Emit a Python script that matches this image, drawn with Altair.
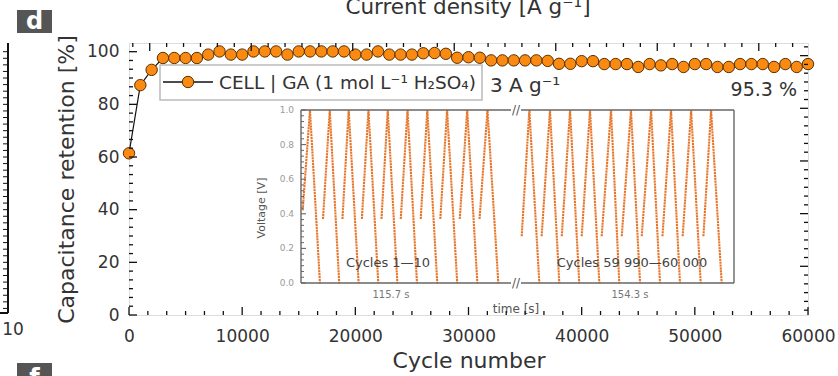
import altair as alt
import pandas as pd

# ---------------- data ----------------
cycles = list(range(0, 60001, 1000))
retention = [61.4, 87.3, 93.1, 97.6, 97.6, 97.6, 97.6, 98.9, 100.1, 98.9,
             98.9, 100.1, 100.1, 100.1, 98.9, 100.1, 100.1, 100.1, 100.1, 100.1,
             98.9, 98.9, 100.1, 98.9, 98.9, 98.9, 99.4, 99.5, 99.2, 97.7,
             97.9, 97.7, 96.7, 96.7, 96.7, 96.7, 96.7, 96.5, 95.4, 95.4,
             96.4, 96.4, 95.3, 95.3, 95.3, 94.2, 95.3, 94.8, 95.3, 94.2,
             95.3, 95.3, 94.2, 94.2, 95.3, 95.3, 95.3, 94.2, 95.3, 94.2, 95.3]

# inset: cycles 1-10 (time in s within the 115.7 s window)
L_start_t = [0.0, 12.0, 23.5, 35.0, 46.6, 58.0, 69.8, 81.4, 92.9, 104.6]
L_peak_t = [4.3, 16.0, 27.2, 38.9, 50.3, 62.0, 73.7, 85.4, 97.3, 109.3]
L_end_t = [10.2, 21.6, 33.1, 44.7, 56.0, 67.6, 79.6, 91.4, 103.3, 115.7]
L_start_v = [0.42, 0.37, 0.37, 0.37, 0.37, 0.37, 0.37, 0.37, 0.37, 0.37]
# inset: cycles 59 990-60 000 (time in s within the 154.3 s window)
R_start_t = [0.0, 15.4, 30.9, 46.3, 61.7, 77.2, 92.6, 108.6, 124.2, 140.2]
R_peak_t = [5.9, 21.8, 37.3, 52.7, 68.9, 84.3, 99.8, 115.2, 130.7, 146.1]
R_end_t = [13.6, 29.0, 44.4, 59.9, 75.3, 91.3, 106.7, 122.1, 138.1, 154.3]
R_start_v = [0.27, 0.27, 0.27, 0.27, 0.27, 0.27, 0.27, 0.27, 0.27, 0.27]

x_ticks = [0, 10000, 20000, 30000, 40000, 50000, 60000]
y_ticks = [0, 20, 40, 60, 80, 100]
v_ticks = [0.0, 0.2, 0.4, 0.6, 0.8, 1.0]
top_major = [1830, 10800, 19770, 28740, 37710, 46680, 55650]
right_major = [18.5, 38.5, 58.5, 78.5, 98.5]

# ---------------- layout ----------------
W, H = 679, 272
F = "DejaVu Sans"
TXT = "#333333"
ORANGE = "#FA8A12"
CURVE = "#E6762A"

XS = alt.Scale(domain=[0, 60000], nice=False, zero=False)
YS = alt.Scale(domain=[0, 103.3], nice=False, zero=False)
LS = alt.Scale(domain=[0, 115.7], range=[173.7, 369.3], nice=False, zero=False)
RS = alt.Scale(domain=[0, 154.3], range=[392.7, 592.7], nice=False, zero=False)
VS = alt.Scale(domain=[0, 1], range=[240, 67], nice=False, zero=False)

main_df = pd.DataFrame({"cycle": cycles, "ret": retention})


def curve_df(st, pk, en, sv):
    rows = []
    for i in range(len(st)):
        rows.append({"cyc": i, "o": 0, "t": st[i], "v": sv[i]})
        rows.append({"cyc": i, "o": 1, "t": pk[i], "v": 1.0})
        rows.append({"cyc": i, "o": 2, "t": en[i], "v": 0.0})
    return pd.DataFrame(rows)


def txt(s, x, y, size, align="center", baseline="middle", color=TXT, angle=0, weight="normal"):
    return alt.Chart(pd.DataFrame({"t": [s]})).mark_text(
        align=align, baseline=baseline, fontSize=size, color=color, font=F,
        fontWeight=weight, angle=angle
    ).encode(x=alt.value(x), y=alt.value(y), text="t:N")


def prule(x0, x1, y0, y1, color="#111111", sw=1.3):
    return alt.Chart(pd.DataFrame({"a": [0]})).mark_rule(color=color, strokeWidth=sw).encode(
        x=alt.value(x0), x2=alt.value(x1), y=alt.value(y0), y2=alt.value(y1))


def prect(x0, x1, y0, y1, fill, stroke=None, sw=0):
    kw = dict(fill=fill, strokeWidth=sw)
    if stroke:
        kw["stroke"] = stroke
    return alt.Chart(pd.DataFrame({"a": [0]})).mark_rect(**kw).encode(
        x=alt.value(x0), x2=alt.value(x1), y=alt.value(y0), y2=alt.value(y1))


def xticks(vals, scale, y0, y1, color="#111111", sw=1.3):
    return alt.Chart(pd.DataFrame({"v": vals})).mark_rule(color=color, strokeWidth=sw).encode(
        x=alt.X("v:Q", scale=scale, axis=None), y=alt.value(y0), y2=alt.value(y1))


def yticks(vals, scale, x0, x1, color="#111111", sw=1.3):
    return alt.Chart(pd.DataFrame({"v": vals})).mark_rule(color=color, strokeWidth=sw).encode(
        y=alt.Y("v:Q", scale=scale, axis=None), x=alt.value(x0), x2=alt.value(x1))


def minors(majors, step, lo, hi):
    out = []
    for m in majors:
        for k in range(-5, 6):
            v = m + k * step
            if k != 0 and lo <= v <= hi and all(abs(v - mm) > 1e-6 for mm in majors):
                out.append(round(v, 4))
    return sorted(set(out))


layers = []

# ---- inset curves ----
layers.append(alt.Chart(curve_df(L_start_t, L_peak_t, L_end_t, L_start_v)).mark_line(
    color=CURVE, strokeWidth=2.1, strokeDash=[2.2, 0.7]).encode(
    x=alt.X("t:Q", scale=LS, axis=None), y=alt.Y("v:Q", scale=VS, axis=None),
    detail="cyc:N", order="o:Q"))
layers.append(alt.Chart(curve_df(R_start_t, R_peak_t, R_end_t, R_start_v)).mark_line(
    color=CURVE, strokeWidth=2.1, strokeDash=[2.2, 0.7]).encode(
    x=alt.X("t:Q", scale=RS, axis=None), y=alt.Y("v:Q", scale=VS, axis=None),
    detail="cyc:N", order="o:Q"))

# ---- inset frame ----
FR = "#666666"
layers += [
    prule(172, 172, 67, 240, FR, 1.4),
    prule(605, 605, 67, 240, FR, 1.4),
    prule(172, 382, 67, 67, FR, 1.4),
    prule(392, 605, 67, 67, FR, 1.4),
    prule(172, 382, 240, 240, FR, 1.4),
    prule(392, 605, 240, 240, FR, 1.4),
    txt("//", 387, 67, 12, color="#555555"),
    txt("//", 387, 240, 12, color="#555555"),
]
layers.append(yticks(v_ticks, VS, 172, 177, FR, 1.1))
layers.append(yticks(minors(v_ticks, 0.2 / 6, 0, 1), VS, 172, 175, FR, 1.0))
layers.append(alt.Chart(pd.DataFrame({"v": v_ticks, "lab": [f"{v:.1f}" for v in v_ticks]})).mark_text(
    align="right", baseline="middle", fontSize=9, color="#9a9a9a", font=F).encode(
    y=alt.Y("v:Q", scale=VS, axis=None), x=alt.value(165), text="lab:N"))
layers += [
    txt("Voltage [V]", 133, 165, 11, angle=270, color="#555555"),
    txt("Cycles 1\u201410", 259, 220, 13, color="#444444"),
    txt("Cycles 59 990\u201460 000", 503, 220, 13, color="#444444"),
    txt("115.7 s", 262, 252, 10, color="#777777"),
    txt("154.3 s", 501, 252, 10, color="#777777"),
    txt("time [s]", 387, 266, 12, color="#555555"),
]

# ---- main series ----
layers.append(alt.Chart(main_df).mark_line(color="#111111", strokeWidth=1.2).encode(
    x=alt.X("cycle:Q", scale=XS, axis=None), y=alt.Y("ret:Q", scale=YS, axis=None)))
layers.append(alt.Chart(main_df).mark_circle(
    size=130, color=ORANGE, opacity=1, stroke="#5a3000", strokeWidth=1).encode(
    x=alt.X("cycle:Q", scale=XS, axis=alt.Axis(
        orient="bottom", values=x_ticks, format="d", ticks=False, domain=False, grid=False,
        labelFont=F, labelFontSize=17, labelColor=TXT, labelPadding=13, labelFlush=False,
        labelOverlap=False, title="Cycle number", titleFont=F, titleFontSize=22,
        titleFontWeight="normal", titleColor=TXT, titlePadding=6)),
    y=alt.Y("ret:Q", scale=YS, axis=alt.Axis(
        orient="left", values=y_ticks, format="d", ticks=False, domain=False, grid=False,
        labelFont=F, labelFontSize=17, labelColor=TXT, labelPadding=10, labelFlush=False,
        labelOverlap=False, title="Capacitance retention [%]", titleFont=F, titleFontSize=22,
        titleFontWeight="normal", titleColor=TXT, titlePadding=8))))

# ---- main frame ticks (inward) ----
layers += [
    xticks(x_ticks, XS, H, H - 8),
    xticks(minors(x_ticks, 10000 / 6, 0, 60000), XS, H, H - 4),
    xticks(top_major, XS, 0, 8),
    xticks(minors(top_major, 8970 / 6, 0, 60000), XS, 0, 4),
    yticks(y_ticks, YS, 0, 8),
    yticks(minors(y_ticks, 20 / 6, 0, 103), YS, 0, 4),
    yticks(right_major, YS, W, W - 8),
    yticks(minors(right_major, 20 / 6, 0, 103), YS, W, W - 4),
]

# ---- legend & annotations ----
layers += [
    prect(31, 353, 22, 57, "white", "#bbbbbb", 1.5),
    prule(34, 84, 39, 39, "#111111", 1.6),
    alt.Chart(pd.DataFrame({"a": [0]})).mark_circle(
        size=130, color=ORANGE, opacity=1, stroke="#5a3000", strokeWidth=1).encode(
        x=alt.value(59), y=alt.value(39)),
    txt("CELL | GA (1 mol L\u207b\u00b9 H\u2082SO\u2084)", 90, 40, 18.5, align="left"),
    txt("3 A g\u207b\u00b9", 361, 43, 20, align="left"),
    txt("95.3 %", 668, 47, 19, align="right"),
    txt("Current density [A g\u207b\u00b9]", 339, -29, 21.5, baseline="alphabetic"),
]

# ---- panel labels and neighbouring-panel fragments ----
layers += [
    prect(-112, -77, -33, -10, "#555555"),
    txt("d", -94.5, -14, 24, baseline="alphabetic", color="white", weight="bold"),
    prect(-112, -77, 320, 345, "#555555"),
    txt("f", -94.5, 343, 24, baseline="alphabetic", color="white", weight="bold"),
    prule(-121, -121, 0, 270, "#111111", 2),
    prule(-129, -121, 270, 270, "#111111", 2),
    yticks([v * 2.5 for v in range(1, 41)], YS, -121, -126, "#111111", 1),
    txt("10", -116, 287, 17),
]

chart = alt.layer(*layers).resolve_scale(x="independent", y="independent").properties(
    width=W, height=H,
    autosize=alt.AutoSizeParams(type="none"),
    padding={"left": 129, "top": 43, "right": 30, "bottom": 61},
).configure_view(stroke="#111111", strokeWidth=2).configure(background="white")

chart.save("out.html", embed_options={"renderer": "svg", "actions": False})
